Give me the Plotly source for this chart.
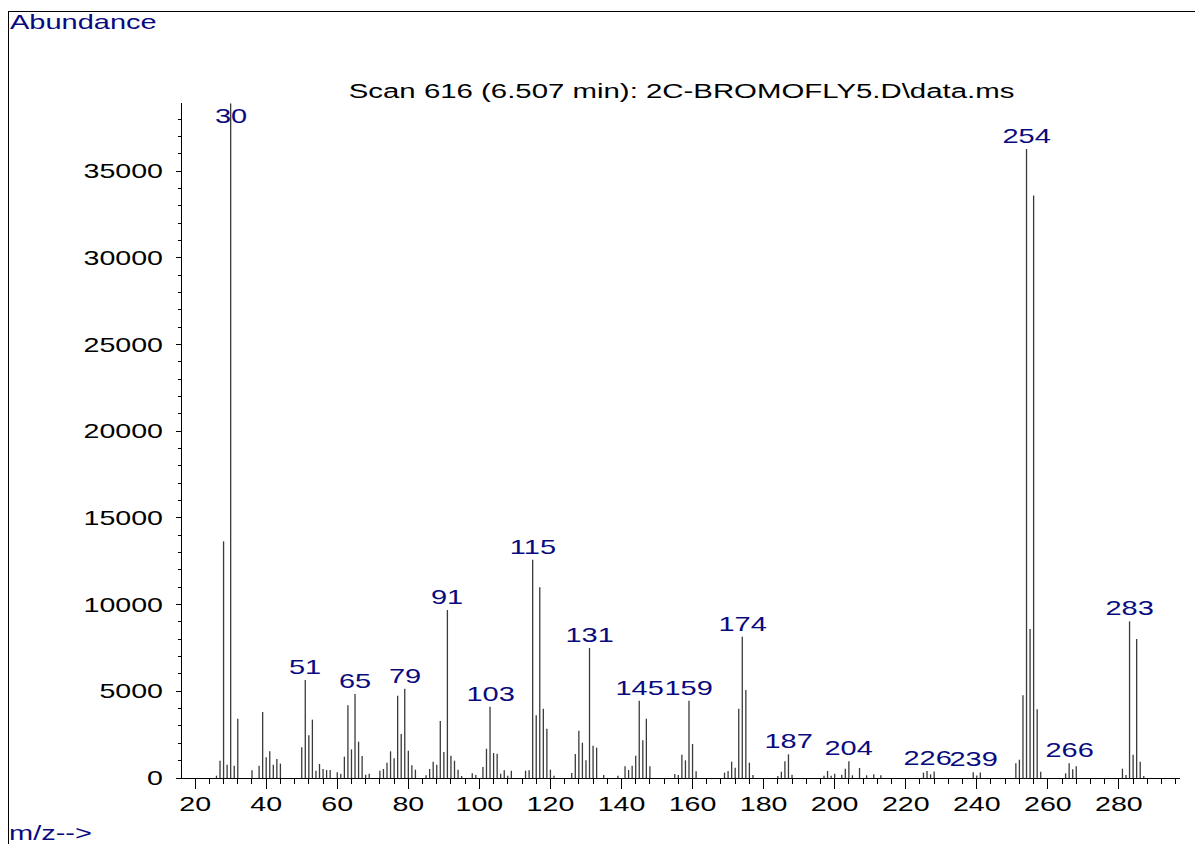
import plotly.graph_objects as go

# m/z values and abundances
mz = [26, 27, 28, 29, 30, 31, 32, 36, 38, 39, 40, 41, 42, 43, 44,
      50, 51, 52, 53, 54, 55, 56, 57, 58, 60, 61, 62, 63, 64, 65, 66, 67, 68, 69,
      72, 73, 74, 75, 76, 77, 78, 79, 80, 81, 82,
      85, 86, 87, 88, 89, 90, 91, 92, 93, 94, 95, 98, 99,
      101, 102, 103, 104, 105, 106, 107, 108, 109, 113, 114,
      115, 116, 117, 118, 119, 120, 121, 126, 127, 128, 129, 130, 131, 132, 133, 135, 139,
      141, 142, 143, 144, 145, 146, 147, 148,
      155, 156, 157, 158, 159, 160, 161,
      169, 170, 171, 172, 173, 174, 175, 176, 177,
      184, 185, 186, 187, 188,
      197, 198, 199, 200, 202, 203, 204, 205, 207, 209, 211, 213,
      225, 226, 227, 228,
      239, 240, 241,
      251, 252, 253, 254, 255, 256, 257, 258,
      265, 266, 267, 268,
      281, 282, 283, 284, 285, 286, 287]

abundance = [135, 1000, 13650, 770, 38900, 710, 3420, 440, 710, 3806, 1190, 1540, 770, 1100, 830,
             1770, 5650, 2460, 3365, 420, 810, 520, 460, 460, 330, 250, 1230, 4190, 1650, 4845, 2095, 1270, 190, 250,
             420, 520, 880, 1540, 1135, 4750, 2540, 5150, 1575, 730, 480,
             155, 520, 940, 770, 3290, 1500, 9690, 1290, 1000, 480, 115, 270, 175,
             635, 1690, 4110, 1440, 1400, 250, 440, 135, 420, 420, 440,
             12590, 3615, 11000, 4000, 2845, 480, 135, 290, 1385, 2730, 2035, 1020, 7500, 1865, 1750, 175, 135,
             675, 460, 710, 1290, 4460, 2175, 3420, 675,
             230, 175, 1345, 1020, 4460, 1960, 385,
             310, 405, 940, 595, 4000, 8150, 5075, 880, 175,
             115, 365, 960, 1365, 190,
             135, 405, 135, 250, 190, 540, 960, 155, 575, 155, 210, 155,
             310, 400, 210, 370,
             330, 150, 310,
             845, 1055, 4770, 36275, 8600, 33600, 3960, 365,
             270, 845, 500, 675,
             540, 175, 9035, 1345, 8015, 940, 115]

labeled_mz = [30, 51, 65, 79, 91, 103, 115, 131, 145, 159, 174, 187, 204, 226, 239, 254, 266, 283]

y_ticks = [0, 5000, 10000, 15000, 20000, 25000, 30000, 35000]
x_ticks = [20, 40, 60, 80, 100, 120, 140, 160, 180, 200, 220, 240, 260, 280]

title_text = "Scan 616 (6.507 min): 2C-BROMOFLY5.D\\data.ms"

FONT = "Liberation Sans, Arial, sans-serif"
NAVY = "#0a0a80"
W, H = 1195, 844
L, R, T, B = 182, 15, 103, 66
Y_MAX = 38930
X_RANGE = [16.3, 297.2]

# stick spectrum
xs, ys = [], []
for m, a in zip(mz, abundance):
    xs += [m, m, None]
    ys += [0, a, None]

fig = go.Figure()
fig.add_trace(go.Scatter(x=xs, y=ys, mode="lines",
                         line=dict(color="#3a3a3a", width=1.3),
                         hoverinfo="skip", showlegend=False))

lookup = dict(zip(mz, abundance))
annotations = []
for m in labeled_mz:
    a = lookup[m]
    if a > 0.95 * Y_MAX:
        annotations.append(dict(x=m, y=Y_MAX, xref="x", yref="y", text=str(m),
                                showarrow=False, yanchor="top", xanchor="center",
                                font=dict(family=FONT, size=20, color=NAVY)))
    else:
        annotations.append(dict(x=m, y=a, xref="x", yref="y", text=str(m),
                                showarrow=False, yanchor="bottom", xanchor="center",
                                font=dict(family=FONT, size=20, color=NAVY)))

pw, ph = W - L - R, H - T - B
def px(xp):
    return (xp - L) / pw
def py(yp):
    return (H - B - yp) / ph

annotations.append(dict(x=0.5, y=1, xref="paper", yref="paper", text=title_text,
                        showarrow=False, xanchor="center", yanchor="bottom", yshift=-1,
                        name="title",
                        font=dict(family=FONT, size=20, color="black")))
annotations.append(dict(x=px(8), y=py(22), xref="paper", yref="paper", text="Abundance",
                        showarrow=False, xanchor="left", yanchor="middle",
                        font=dict(family=FONT, size=20, color=NAVY)))
annotations.append(dict(x=px(8), y=py(832.5), xref="paper", yref="paper", text="m/z-->",
                        showarrow=False, xanchor="left", yanchor="middle", borderpad=0,
                        font=dict(family=FONT, size=20, color=NAVY)))

shapes = [
    dict(type="line", xref="paper", yref="paper", x0=px(8), x1=px(W + 5), y0=py(11.5), y1=py(11.5),
         line=dict(color="black", width=1)),
    dict(type="line", xref="paper", yref="paper", x0=px(8.5), x1=px(8.5), y0=py(11), y1=py(H + 5),
         line=dict(color="black", width=1)),
]

fig.update_layout(
    width=W, height=H,
    margin=dict(l=L, r=R, t=T, b=B),
    paper_bgcolor="white", plot_bgcolor="white",
    showlegend=False,
    annotations=annotations,
    shapes=shapes,
    xaxis=dict(range=X_RANGE, tickvals=x_ticks, ticktext=[str(v) for v in x_ticks],
               showgrid=False, zeroline=False, showline=True, linecolor="black", linewidth=1,
               ticks="outside", ticklen=10, tickcolor="black", tickwidth=1,
               minor=dict(dtick=4, tick0=0, ticks="outside", ticklen=5, tickcolor="black", tickwidth=1,
                          showgrid=False),
               tickfont=dict(family=FONT, size=20, color="black"),
               ticklabelstandoff=-2),
    yaxis=dict(range=[0, Y_MAX], tickvals=y_ticks, ticktext=[str(v) for v in y_ticks],
               showgrid=False, zeroline=False, showline=True, linecolor="black", linewidth=1,
               ticks="outside", ticklen=5, tickcolor="black", tickwidth=1,
               minor=dict(dtick=1000, tick0=0, ticks="outside", ticklen=3, tickcolor="black", tickwidth=1,
                          showgrid=False),
               tickfont=dict(family=FONT, size=20, color="black"),
               ticklabelstandoff=9),
)

# The reference uses a horizontally stretched sans font; widen the SVG text
# glyphs in place (text stays real text) and drop the default page margin.
post_js = r"""
document.body.style.margin = '0';
(function(){
  var gd = document.getElementById('{plot_id}');
  function apply(){
    var texts = gd.querySelectorAll('text');
    texts.forEach(function(t){
      if (t.getAttribute('data-sx') === '1') return;
      var bb;
      try { bb = t.getBBox(); } catch(e) { return; }
      if (!bb || bb.width === 0) return;
      var S = 1.43;
      var anchor = t.getAttribute('text-anchor') || 'start';
      var ann = t.closest('g.annotation');
      if (ann && gd._fullLayout && gd._fullLayout.annotations) {
        var i = +ann.getAttribute('data-index');
        var a = gd._fullLayout.annotations[i];
        if (a) {
          anchor = a.xanchor === 'left' ? 'start' : (a.xanchor === 'right' ? 'end' : 'middle');
          S = a.name === 'title' ? 1.47 : 1.45;
        }
      }
      var ox = anchor === 'start' ? bb.x : (anchor === 'end' ? bb.x + bb.width : bb.x + bb.width / 2);
      var tr = t.getAttribute('transform') || '';
      t.setAttribute('transform', tr + ' translate(' + ox + ',0) scale(' + S + ',1) translate(' + (-ox) + ',0)');
      t.setAttribute('data-sx', '1');
    });
  }
  apply();
  if (gd.on) gd.on('plotly_afterplot', apply);
})();
"""

fig.write_html("out.html", post_script=post_js, config={"displayModeBar": False})
